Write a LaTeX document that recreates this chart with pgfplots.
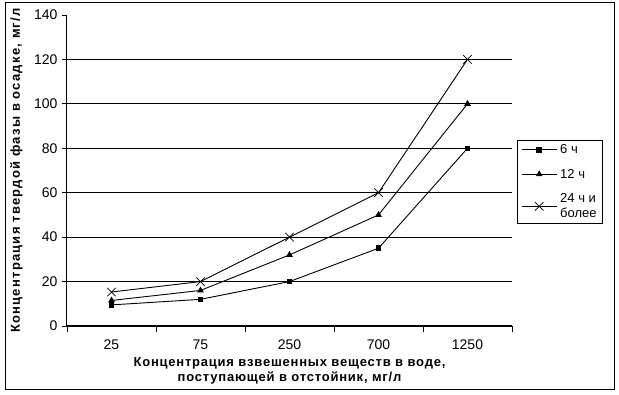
\documentclass[border=0pt]{standalone}
\usepackage{fontspec}
\setmainfont{Liberation Sans}
\newfontfamily\lblfont[LetterSpace=6,BoldFont={Liberation Sans Bold}]{Liberation Sans}
\newfontfamily\ylblfont[LetterSpace=9.5,BoldFont={Liberation Sans Bold}]{Liberation Sans}
\usepackage{pgfplots}
\pgfplotsset{compat=1.18}
\begin{document}
\begin{tikzpicture}
\begin{axis}[
  at={(0pt,0pt)}, anchor=south west,
  scale only axis, width=445pt, height=311pt,
  xmin=-0.5, xmax=4.5, ymin=0, ymax=140,
  axis lines*=left,
  axis line style={line width=1pt},
  xtick={0,1,2,3,4},
  xticklabels={25,75,250,700,1250},
  major x tick style={draw=none},
  minor xtick={-0.5,0.5,1.5,2.5,3.5,4.5},
  minor tick length=6pt,
  minor x tick style={line width=0.8pt,black},
  tick align=outside,
  ytick={0,20,...,120},
  extra y ticks={140},
  extra y tick style={grid=none},
  major tick length=5pt,
  y tick style={line width=0.8pt,black},
  ymajorgrids,
  grid style={line width=0.9pt,black},
  xticklabel style={yshift=-5pt},
  yticklabel style={xshift=-1pt},
  tick label style={font=\fontsize{14}{15}\selectfont},
  /pgf/number format/assume math mode=true,
  xlabel={Концентрация взвешенных веществ в воде,\\поступающей в отстойник, мг/л},
  xlabel style={font=\lblfont\bfseries\fontsize{13}{15.5}\selectfont, align=center, at={(axis description cs:0.5,0)}, anchor=north, yshift=-28pt},
  ylabel={Концентрация твердой фазы в осадке, мг/л},
  ylabel style={font=\ylblfont\bfseries\fontsize{13}{14}\selectfont, at={(axis description cs:0,0.5)}, anchor=south, yshift=41pt, xshift=0pt},
  legend style={at={(1.011,0.598)}, anchor=north west, draw=black, line width=0.8pt,
    font=\fontsize{13}{15}\selectfont, cells={anchor=west, align=left},
    row sep=10pt, inner xsep=4pt, inner ysep=2pt},
  legend cell align=left,
  legend image code/.code={\draw[mark repeat=2,mark phase=2,#1] plot coordinates {(0pt,0pt) (17.5pt,0pt) (35pt,0pt)}; \path (36pt,0pt);},
  every axis plot/.append style={line width=0.9pt, black},
]
\addplot[mark=square*, mark size=2.3pt, mark options={solid}] coordinates {(0,9.5) (1,12) (2,20) (3,35) (4,80)};
\addlegendentry{6 ч}
\addplot[mark=triangle*, mark size=3pt] coordinates {(0,11.5) (1,16) (2,32) (3,50) (4,100)};
\addlegendentry{12 ч}
\addplot[mark=x, mark size=6pt, mark options={line width=0.7pt}] coordinates {(0,15.3) (1,20) (2,40) (3,60) (4,120)};
\addlegendentry{24 ч и\\более}
\end{axis}
\draw[line width=1pt] (-61pt,-64pt) rectangle (547pt,323pt);
\pgfresetboundingbox
\path (-67pt,-69pt) rectangle (552pt,326pt);
\end{tikzpicture}
\end{document}
